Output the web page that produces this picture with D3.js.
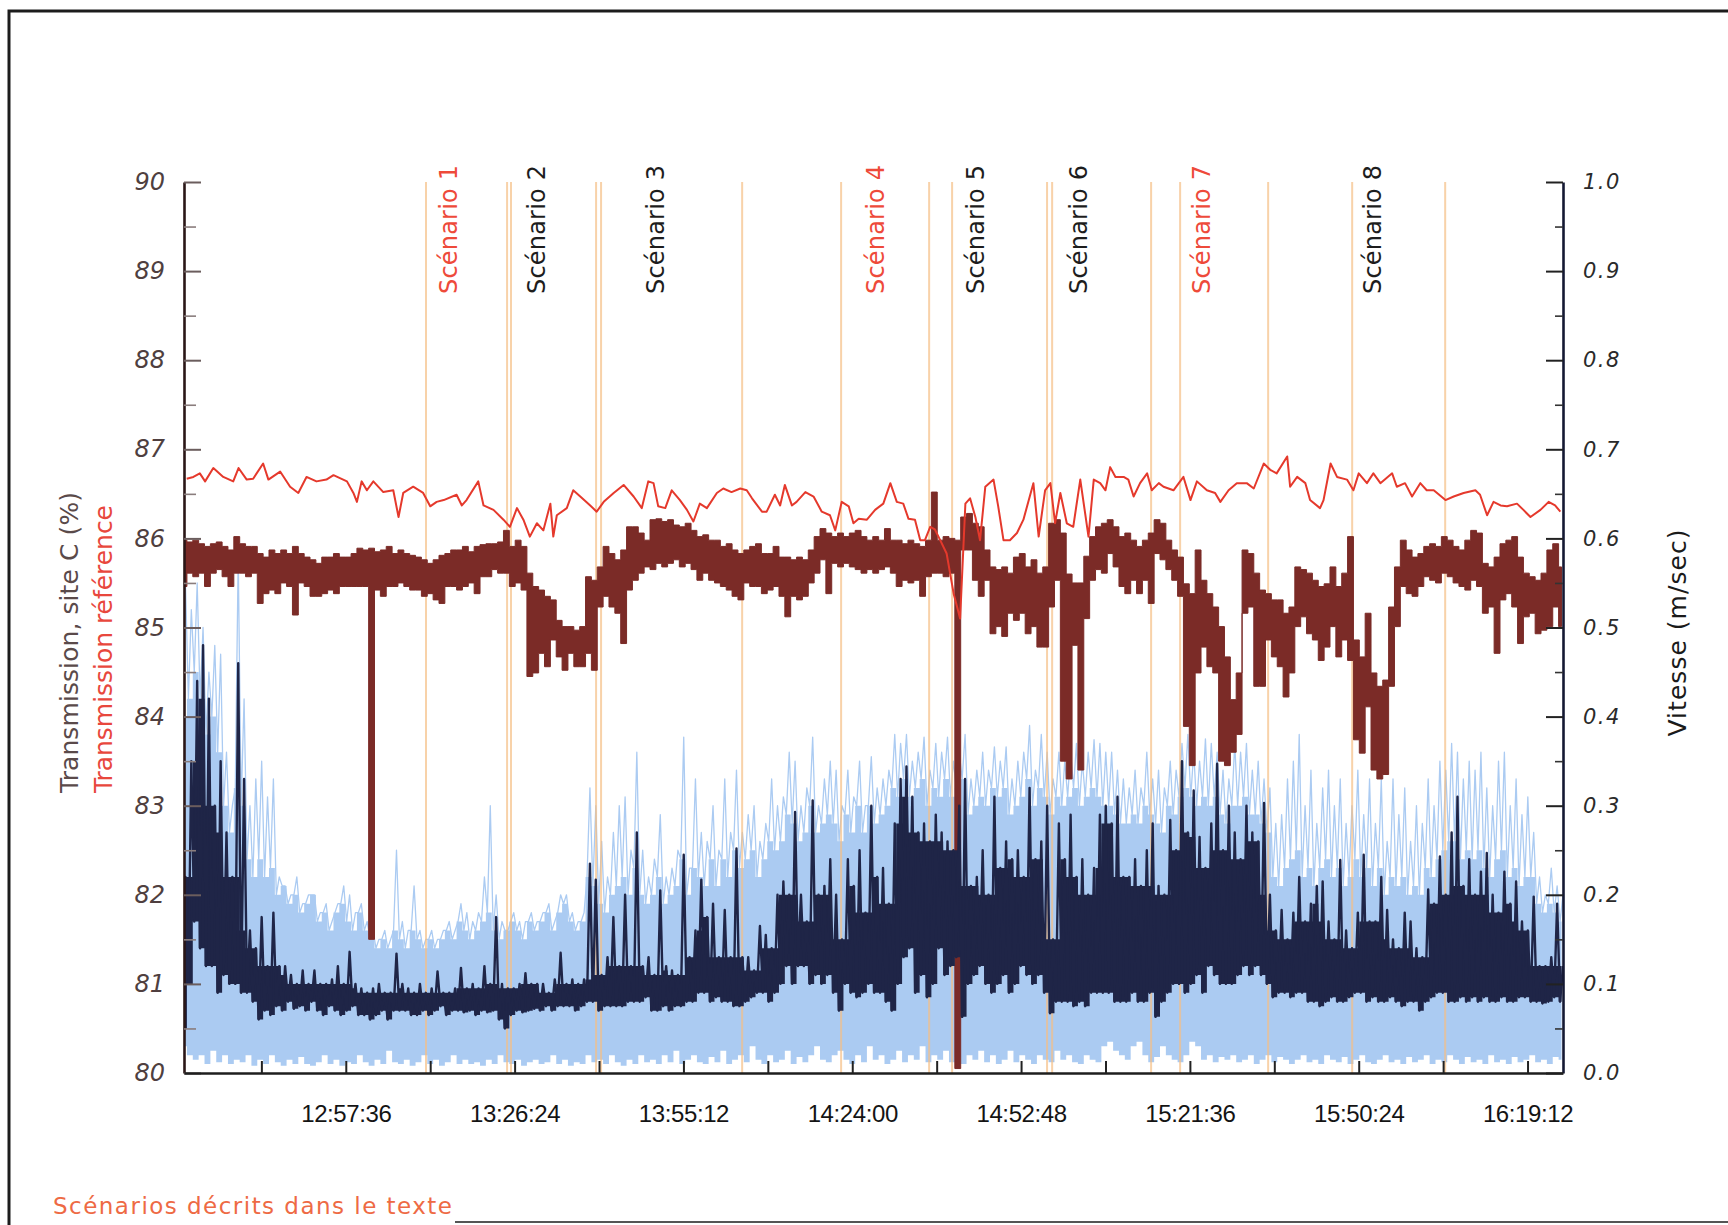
<!DOCTYPE html>
<html>
<head>
<meta charset="utf-8">
<script src="https://cdn.jsdelivr.net/npm/d3@7"></script>
<style>
  html, body { margin: 0; padding: 0; background: #fff; }
  svg { display: block; }
</style>
</head>
<body>
<svg id="chart" width="1728" height="1225"></svg>
<script>
// ---------------------------------------------------------------
// Time frame
// ---------------------------------------------------------------
const axisStart = "12:30:00";
const axisEnd = "16:25:15";
const seriesStart = "12:30:00";   // gridded series: one value per minute
const stepMinutes = 1;

const majorTimeTicks = ["12:57:36", "13:26:24", "13:55:12", "14:24:00", "14:52:48", "15:21:36", "15:50:24", "16:19:12"];
const minorTimeTicks = ["12:43:12", "13:12:00", "13:40:48", "14:09:36", "14:38:24", "15:07:12", "15:36:00", "16:04:48"];

const transmissionTicks = [80, 81, 82, 83, 84, 85, 86, 87, 88, 89, 90];
const transmissionMinor = [80.5, 81.5, 82.5, 83.5, 84.5, 85.5, 86.5, 87.5, 88.5, 89.5];
const speedTicks = [0, 0.1, 0.2, 0.3, 0.4, 0.5, 0.6, 0.7, 0.8, 0.9, 1.0];
const speedMinor = [0.05, 0.15, 0.25, 0.35, 0.45, 0.55, 0.65, 0.75, 0.85, 0.95];

// Scenario boundaries and labels
const scenarioBoundaries = ["13:11:17", "13:25:07", "13:25:47", "13:40:18", "13:41:09", "14:05:13", "14:22:06",
  "14:37:07", "14:41:02", "14:57:14", "14:58:06", "15:14:59", "15:19:56", "15:34:57", "15:49:17", "16:05:09"];
const scenarioNames = ["Scénario 1", "Scénario 2", "Scénario 3", "Scénario 4", "Scénario 5", "Scénario 6", "Scénario 7", "Scénario 8"];
const scenarioTimes = ["13:15:13", "13:30:14", "13:50:22", "14:28:04", "14:44:58", "15:02:32", "15:23:31", "15:52:42"];

// ---------------------------------------------------------------
// Reference transmission (%) : [minutes after 12:30, value]
// ---------------------------------------------------------------
const referenceSeries = [
  [0.46,86.67],[1.6,86.69],[2.7,86.73],[3.6,86.64],[5.0,86.79],[6.7,86.69],[8.4,86.64],[9.3,86.79],[10.7,86.66],[11.8,86.67],
  [13.5,86.84],[14.4,86.66],[16.4,86.75],[18.1,86.58],[19.5,86.51],[20.9,86.69],[22.6,86.64],[24.3,86.66],[25.5,86.71],[27.8,86.64],
  [28.9,86.51],[29.5,86.41],[30.3,86.64],[31.2,86.54],[32.3,86.64],[34.0,86.52],[35.7,86.54],[36.6,86.24],[37.4,86.51],[39.1,86.58],
  [40.8,86.51],[42.0,86.36],[43.1,86.41],[44.3,86.43],[46.5,86.49],[47.4,86.37],[48.2,86.43],[50.2,86.64],[51.1,86.37],[52.8,86.32],
  [54.5,86.21],[55.6,86.13],[56.8,86.34],[57.9,86.21],[59.0,86.02],[60.2,86.17],[61.3,86.09],[62.5,86.39],[63.0,86.02],[63.6,86.26],
  [65.3,86.34],[66.4,86.54],[67.6,86.47],[69.3,86.37],[70.4,86.30],[71.6,86.41],[73.3,86.51],[75.0,86.60],[76.7,86.47],[78.1,86.34],
  [79.2,86.64],[80.1,86.62],[80.9,86.36],[82.1,86.34],[83.2,86.54],[84.6,86.43],[85.8,86.32],[86.9,86.19],[88.0,86.39],[89.2,86.34],
  [90.9,86.51],[92.0,86.56],[93.4,86.52],[94.9,86.56],[96.0,86.54],[96.9,86.45],[98.6,86.30],[99.4,86.30],[100.8,86.49],[101.7,86.37],
  [102.5,86.60],[103.7,86.37],[104.5,86.41],[106.0,86.52],[107.4,86.47],[108.8,86.30],[110.2,86.26],[111.1,86.09],[112.2,86.41],[113.4,86.36],
  [114.2,86.17],[115.1,86.22],[116.5,86.21],[117.9,86.32],[119.3,86.39],[120.5,86.62],[121.6,86.41],[122.7,86.39],[123.6,86.22],[124.7,86.21],
  [125.6,85.98],[126.4,85.98],[127.3,86.13],[128.1,86.10],[129.0,85.98],[130.1,85.83],[131.3,85.38],[132.4,85.10],[133.3,86.39],[134.1,86.45],
  [135.0,86.24],[135.8,85.98],[136.7,86.58],[138.1,86.66],[138.9,86.36],[139.8,85.98],[140.9,85.98],[142.1,86.06],[143.2,86.21],[144.9,86.62],
  [145.8,86.02],[146.9,86.54],[147.8,86.62],[148.6,86.17],[149.5,86.51],[150.6,86.17],[151.7,86.13],[152.9,86.66],[154.3,86.02],[155.2,86.66],
  [156.3,86.62],[157.2,86.54],[158.0,86.80],[158.9,86.69],[160.3,86.69],[161.1,86.66],[162.0,86.47],[163.1,86.62],[164.3,86.73],[165.1,86.54],
  [166.3,86.62],[167.1,86.58],[168.8,86.54],[170.5,86.69],[171.7,86.43],[172.8,86.64],[174.5,86.54],[175.9,86.51],[176.8,86.41],[178.2,86.54],
  [179.6,86.62],[181.3,86.62],[182.5,86.56],[184.2,86.84],[185.3,86.77],[186.4,86.73],[188.2,86.92],[188.7,86.58],[189.9,86.69],[191.3,86.62],
  [192.1,86.43],[193.8,86.34],[194.4,86.43],[195.6,86.84],[196.7,86.69],[198.4,86.66],[199.5,86.54],[200.4,86.73],[201.8,86.62],[202.9,86.73],
  [204.1,86.62],[206.1,86.73],[206.9,86.58],[208.3,86.62],[209.5,86.47],[210.9,86.62],[212.0,86.54],[213.2,86.54],[215.2,86.43],[216.6,86.47],
  [218.3,86.51],[220.3,86.54],[221.1,86.49],[222.3,86.26],[223.4,86.41],[224.6,86.37],[225.7,86.36],[227.4,86.39],[228.5,86.32],[229.7,86.24],
  [231.4,86.32],[232.8,86.41],[233.9,86.37],[234.8,86.30]
];

// ---------------------------------------------------------------
// Site C transmission (%) : per-minute high / low envelope
// ---------------------------------------------------------------
const siteCHigh = [
  85.98,85.96,85.98,85.94,85.91,85.94,85.96,85.91,85.87,86.02, // 12:30
  85.94,85.91,85.91,85.83,85.79,85.87,85.83,85.87,85.83,85.91, // 12:40
  85.83,85.79,85.76,85.72,85.79,85.79,85.83,85.79,85.79,85.83, // 12:50
  85.89,85.87,85.89,85.85,85.87,85.91,85.83,85.87,85.83,85.81, // 13:00
  85.79,85.76,85.72,85.76,85.81,85.83,85.87,85.87,85.91,85.85, // 13:10
  85.91,85.93,85.94,85.94,85.96,86.09,85.91,85.98,85.91,85.61, // 13:20
  85.46,85.42,85.35,85.31,85.08,85.01,85.01,84.97,85.01,85.57, // 13:30
  85.53,85.68,85.91,85.83,85.76,85.87,86.13,86.13,86.06,85.98, // 13:40
  86.21,86.22,86.19,86.21,86.15,86.13,86.17,86.09,86.02,86.04, // 13:50
  85.98,85.98,85.91,85.94,85.87,85.83,85.87,85.91,85.94,85.83, // 14:00
  85.83,85.91,85.79,85.79,85.76,85.79,85.76,85.87,86.02,86.11, // 14:10
  86.06,86.02,86.06,86.02,86.06,86.09,86.02,85.98,86.02,85.98, // 14:20
  86.11,85.98,85.98,85.94,85.98,85.94,85.91,85.98,86.52,85.98, // 14:30
  86.02,86.00,85.98,86.24,86.28,86.17,86.13,85.87,85.68,85.65, // 14:40
  85.68,85.61,85.79,85.83,85.68,85.76,85.61,85.68,86.17,86.21, // 14:50
  86.06,85.60,85.50,85.50,85.80,86.02,86.13,86.17,86.21,86.13, // 15:00
  86.02,86.06,85.98,85.91,85.98,86.06,86.21,86.17,85.98,85.87, // 15:10
  85.79,85.49,85.38,85.87,85.53,85.38,85.23,85.01,84.67,84.19, // 15:20
  84.49,85.87,85.83,85.61,85.42,85.38,85.31,85.31,85.16,85.23, // 15:30
  85.68,85.65,85.61,85.53,85.46,85.49,85.68,85.46,85.61,86.02, // 15:40
  84.86,84.67,85.16,84.49,84.34,84.41,85.23,85.68,85.98,85.87, // 15:50
  85.79,85.83,85.91,85.94,85.91,86.02,85.98,85.91,85.87,85.98, // 16:00
  86.09,86.06,85.72,85.68,85.79,85.94,85.98,86.02,85.79,85.61, // 16:10
  85.57,85.53,85.61,85.87,85.94,85.68                          // 16:20
];
const siteCLow = [
  85.46,85.61,85.57,85.61,85.46,85.61,85.65,85.57,85.46,85.61,
  85.61,85.57,85.61,85.27,85.38,85.42,85.38,85.50,85.46,85.14,
  85.50,85.46,85.35,85.35,85.38,85.42,85.38,85.46,85.46,85.46,
  85.46,85.46,81.50,85.42,85.35,85.46,85.46,85.50,85.46,85.42,
  85.42,85.35,85.38,85.31,85.27,85.46,85.46,85.42,85.46,85.50,
  85.38,85.57,85.57,85.65,85.61,85.61,85.46,85.50,85.42,84.45,
  84.49,84.71,84.56,84.86,84.67,84.52,84.71,84.56,84.56,84.71,
  84.52,85.23,85.35,85.23,85.16,84.82,85.42,85.53,85.61,85.68,
  85.65,85.72,85.68,85.72,85.76,85.68,85.72,85.65,85.53,85.61,
  85.53,85.50,85.46,85.42,85.35,85.31,85.50,85.46,85.46,85.38,
  85.42,85.46,85.35,85.12,85.35,85.31,85.35,85.50,85.61,85.76,
  85.38,85.72,85.68,85.72,85.68,85.65,85.61,85.65,85.61,85.65,
  85.68,85.61,85.46,85.53,85.50,85.53,85.35,85.57,85.61,85.61,
  85.57,85.61,80.05,85.87,85.87,85.53,85.35,85.53,84.93,85.01,
  84.90,85.16,85.08,85.16,84.93,85.01,84.78,84.78,85.23,85.53,
  83.50,83.30,84.80,83.40,85.10,85.53,85.65,85.61,85.83,85.68,
  85.46,85.38,85.53,85.38,85.53,85.27,85.83,85.76,85.65,85.53,
  85.35,83.89,83.45,84.49,84.78,84.56,84.49,83.50,83.45,83.60,
  83.80,85.16,85.23,84.34,84.34,84.86,84.67,84.56,84.22,84.49,
  85.01,85.12,84.93,84.86,84.63,84.78,85.01,84.67,84.86,84.63,
  83.74,83.59,84.11,83.40,83.30,83.35,84.34,85.01,85.46,85.38,
  85.35,85.46,85.57,85.53,85.50,85.61,85.57,85.50,85.46,85.42,
  85.53,85.46,85.16,85.23,84.71,85.31,85.38,85.23,84.82,85.12,
  85.16,84.93,84.97,85.01,85.23,85.01
];

// ---------------------------------------------------------------
// Current speed (m/s), filtered : per-minute high / low envelope
// ---------------------------------------------------------------
const speedHigh = [
  0.22,0.35,0.44,0.48,0.42,0.30,0.35,0.27,0.22,0.46,
  0.33,0.16,0.14,0.175,0.12,0.18,0.12,0.12,0.11,0.10,
  0.115,0.10,0.115,0.10,0.10,0.105,0.12,0.10,0.136,0.10,
  0.095,0.09,0.095,0.10,0.09,0.09,0.134,0.10,0.095,0.09,
  0.10,0.09,0.095,0.114,0.09,0.09,0.095,0.118,0.095,0.10,
  0.095,0.12,0.10,0.175,0.10,0.095,0.095,0.10,0.112,0.10,
  0.10,0.10,0.09,0.105,0.135,0.10,0.105,0.10,0.105,0.235,
  0.217,0.11,0.13,0.175,0.12,0.20,0.12,0.27,0.12,0.13,
  0.11,0.205,0.12,0.115,0.11,0.245,0.13,0.16,0.217,0.175,
  0.19,0.13,0.183,0.13,0.252,0.13,0.13,0.115,0.165,0.155,
  0.14,0.20,0.215,0.20,0.293,0.20,0.17,0.306,0.20,0.21,
  0.24,0.20,0.15,0.24,0.21,0.25,0.18,0.30,0.22,0.23,
  0.19,0.28,0.33,0.344,0.31,0.27,0.28,0.26,0.29,0.27,
  0.26,0.25,0.30,0.33,0.21,0.22,0.25,0.20,0.31,0.23,
  0.26,0.24,0.25,0.22,0.32,0.24,0.26,0.30,0.15,0.28,
  0.24,0.29,0.22,0.24,0.20,0.23,0.29,0.30,0.28,0.31,
  0.22,0.22,0.24,0.21,0.25,0.28,0.21,0.20,0.284,0.25,
  0.35,0.27,0.317,0.265,0.23,0.28,0.347,0.25,0.30,0.27,
  0.24,0.30,0.27,0.26,0.303,0.20,0.16,0.183,0.15,0.18,
  0.22,0.17,0.19,0.21,0.215,0.17,0.15,0.239,0.16,0.14,
  0.18,0.245,0.17,0.17,0.22,0.183,0.15,0.14,0.18,0.17,
  0.14,0.13,0.206,0.19,0.243,0.20,0.27,0.31,0.21,0.24,
  0.20,0.226,0.247,0.20,0.18,0.226,0.19,0.215,0.17,0.16,
  0.198,0.12,0.12,0.13,0.19,0.12
];
const speedLow = [
  0.05,0.10,0.17,0.14,0.12,0.12,0.09,0.11,0.10,0.10,
  0.09,0.09,0.08,0.06,0.07,0.065,0.075,0.07,0.08,0.072,
  0.075,0.07,0.08,0.07,0.065,0.075,0.07,0.065,0.07,0.075,
  0.065,0.065,0.06,0.065,0.07,0.06,0.07,0.07,0.07,0.065,
  0.065,0.07,0.065,0.07,0.075,0.065,0.07,0.07,0.068,0.07,
  0.065,0.07,0.068,0.07,0.06,0.05,0.065,0.07,0.068,0.07,
  0.072,0.07,0.075,0.07,0.075,0.075,0.075,0.07,0.075,0.08,
  0.08,0.07,0.075,0.075,0.075,0.075,0.08,0.08,0.08,0.085,
  0.07,0.07,0.075,0.07,0.075,0.075,0.08,0.08,0.09,0.09,
  0.08,0.085,0.08,0.08,0.075,0.075,0.08,0.085,0.09,0.09,
  0.08,0.09,0.10,0.12,0.10,0.12,0.12,0.10,0.11,0.10,
  0.11,0.09,0.07,0.10,0.09,0.085,0.09,0.10,0.09,0.09,
  0.08,0.07,0.10,0.13,0.14,0.09,0.11,0.085,0.10,0.14,
  0.11,0.12,0.13,0.063,0.10,0.11,0.12,0.10,0.09,0.10,
  0.11,0.09,0.10,0.12,0.11,0.10,0.11,0.09,0.067,0.08,
  0.08,0.08,0.075,0.08,0.075,0.09,0.09,0.09,0.09,0.08,
  0.08,0.08,0.09,0.08,0.08,0.09,0.063,0.08,0.09,0.10,
  0.10,0.09,0.10,0.11,0.09,0.12,0.11,0.10,0.10,0.10,
  0.11,0.12,0.11,0.12,0.11,0.10,0.085,0.09,0.09,0.085,
  0.09,0.09,0.08,0.08,0.075,0.08,0.085,0.08,0.08,0.085,
  0.09,0.09,0.08,0.085,0.08,0.08,0.085,0.08,0.075,0.08,
  0.08,0.07,0.08,0.085,0.09,0.09,0.08,0.08,0.085,0.08,
  0.085,0.08,0.085,0.08,0.08,0.085,0.08,0.08,0.085,0.085,
  0.08,0.08,0.078,0.08,0.085,0.08
];

// ---------------------------------------------------------------
// Current speed (m/s), raw : per-minute low, dense upper edge, peak
// ---------------------------------------------------------------
const rawSpeedLow = [
  0.03,0.02,0.015,0.02,0.01,0.025,0.012,0.02,0.01,0.015,
  0.012,0.02,0.008,0.015,0.01,0.02,0.012,0.008,0.015,0.01,
  0.018,0.01,0.008,0.012,0.02,0.01,0.015,0.008,0.012,0.01,
  0.02,0.012,0.008,0.015,0.01,0.025,0.012,0.01,0.015,0.008,
  0.012,0.02,0.01,0.015,0.008,0.012,0.02,0.01,0.015,0.01,
  0.012,0.008,0.015,0.01,0.02,0.012,0.01,0.015,0.008,0.012,
  0.015,0.01,0.012,0.02,0.01,0.015,0.008,0.012,0.01,0.02,
  0.012,0.015,0.01,0.02,0.012,0.008,0.015,0.01,0.02,0.012,
  0.015,0.01,0.02,0.012,0.025,0.01,0.015,0.02,0.012,0.01,
  0.018,0.012,0.025,0.01,0.015,0.02,0.012,0.03,0.015,0.01,
  0.02,0.012,0.015,0.025,0.01,0.018,0.012,0.02,0.03,0.015,
  0.012,0.02,0.025,0.015,0.01,0.02,0.012,0.03,0.015,0.02,
  0.01,0.015,0.025,0.012,0.02,0.015,0.03,0.012,0.02,0.015,
  0.025,0.012,0.018,0.01,0.02,0.015,0.025,0.012,0.02,0.01,
  0.015,0.025,0.012,0.02,0.015,0.01,0.02,0.015,0.012,0.025,
  0.015,0.02,0.012,0.01,0.02,0.015,0.012,0.03,0.035,0.025,
  0.02,0.015,0.03,0.035,0.02,0.012,0.018,0.03,0.02,0.015,
  0.012,0.02,0.035,0.03,0.015,0.02,0.012,0.018,0.015,0.02,
  0.012,0.015,0.02,0.01,0.015,0.02,0.012,0.018,0.015,0.01,
  0.015,0.02,0.012,0.015,0.01,0.02,0.015,0.012,0.018,0.01,
  0.015,0.02,0.012,0.01,0.015,0.02,0.012,0.015,0.01,0.018,
  0.012,0.015,0.02,0.01,0.015,0.012,0.02,0.015,0.01,0.018,
  0.012,0.015,0.01,0.02,0.012,0.015,0.01,0.018,0.012,0.015,
  0.02,0.012,0.015,0.01,0.018,0.015
];
const rawSpeedBand = [
  0.40,0.42,0.45,0.42,0.38,0.40,0.36,0.30,0.27,0.32,
  0.30,0.24,0.22,0.24,0.22,0.23,0.20,0.21,0.19,0.20,
  0.18,0.19,0.20,0.17,0.18,0.16,0.18,0.19,0.17,0.16,
  0.18,0.16,0.15,0.14,0.15,0.14,0.16,0.15,0.14,0.16,
  0.15,0.14,0.15,0.14,0.15,0.16,0.15,0.17,0.16,0.15,
  0.16,0.17,0.18,0.16,0.15,0.16,0.17,0.16,0.15,0.17,
  0.16,0.17,0.18,0.16,0.18,0.19,0.17,0.16,0.17,0.22,
  0.21,0.19,0.18,0.20,0.21,0.22,0.20,0.23,0.20,0.19,
  0.20,0.22,0.19,0.20,0.21,0.24,0.20,0.23,0.22,0.21,
  0.24,0.21,0.24,0.22,0.25,0.23,0.24,0.25,0.22,0.24,
  0.26,0.25,0.26,0.29,0.28,0.26,0.27,0.30,0.27,0.28,
  0.29,0.28,0.26,0.29,0.27,0.30,0.27,0.30,0.28,0.29,
  0.30,0.32,0.31,0.33,0.31,0.32,0.33,0.30,0.32,0.31,
  0.33,0.31,0.32,0.33,0.29,0.30,0.31,0.30,0.32,0.31,
  0.32,0.29,0.30,0.31,0.33,0.30,0.32,0.31,0.29,0.31,
  0.30,0.31,0.32,0.30,0.31,0.32,0.31,0.30,0.30,0.29,
  0.28,0.28,0.29,0.28,0.30,0.29,0.28,0.27,0.30,0.29,
  0.31,0.32,0.31,0.30,0.31,0.30,0.31,0.29,0.28,0.30,
  0.30,0.31,0.29,0.29,0.28,0.27,0.22,0.21,0.23,0.24,
  0.25,0.22,0.23,0.21,0.23,0.24,0.22,0.23,0.21,0.22,
  0.24,0.22,0.23,0.21,0.23,0.20,0.22,0.21,0.22,0.20,
  0.21,0.20,0.23,0.22,0.24,0.25,0.26,0.26,0.24,0.25,
  0.24,0.25,0.23,0.22,0.24,0.25,0.22,0.23,0.21,0.22,
  0.22,0.19,0.18,0.19,0.18,0.17
];
const rawSpeedPeak = [
  0.55,0.52,0.55,0.50,0.45,0.48,0.47,0.36,0.30,0.58,
  0.42,0.30,0.33,0.35,0.31,0.33,0.22,0.21,0.20,0.22,
  0.19,0.20,0.20,0.18,0.19,0.17,0.19,0.21,0.20,0.18,
  0.19,0.17,0.16,0.15,0.16,0.15,0.25,0.17,0.16,0.21,
  0.16,0.15,0.16,0.15,0.16,0.17,0.16,0.19,0.18,0.17,
  0.18,0.22,0.30,0.20,0.17,0.16,0.18,0.17,0.17,0.18,
  0.17,0.18,0.19,0.17,0.20,0.20,0.18,0.17,0.18,0.32,
  0.30,0.26,0.22,0.27,0.30,0.31,0.25,0.36,0.25,0.22,
  0.24,0.29,0.22,0.23,0.25,0.377,0.23,0.33,0.27,0.26,
  0.30,0.25,0.33,0.27,0.34,0.27,0.29,0.30,0.26,0.28,
  0.33,0.30,0.31,0.36,0.35,0.30,0.32,0.377,0.30,0.33,
  0.35,0.34,0.30,0.34,0.31,0.35,0.30,0.355,0.32,0.33,
  0.34,0.38,0.37,0.38,0.35,0.36,0.377,0.34,0.37,0.36,
  0.377,0.35,0.36,0.38,0.33,0.34,0.36,0.34,0.366,0.35,
  0.366,0.33,0.35,0.36,0.39,0.34,0.38,0.36,0.33,0.36,
  0.35,0.36,0.37,0.35,0.36,0.374,0.37,0.36,0.36,0.34,
  0.33,0.32,0.34,0.32,0.36,0.33,0.34,0.32,0.35,0.34,
  0.37,0.38,0.36,0.35,0.375,0.37,0.36,0.34,0.33,0.37,
  0.36,0.37,0.34,0.35,0.33,0.32,0.28,0.29,0.33,0.35,
  0.38,0.30,0.34,0.28,0.32,0.34,0.30,0.33,0.28,0.30,
  0.34,0.29,0.33,0.28,0.33,0.26,0.33,0.29,0.32,0.26,
  0.30,0.28,0.33,0.30,0.35,0.34,0.37,0.36,0.33,0.35,
  0.34,0.36,0.32,0.30,0.35,0.36,0.30,0.33,0.29,0.31,
  0.27,0.22,0.20,0.23,0.21,0.20
];

// ---------------------------------------------------------------
// Layout and styles
// ---------------------------------------------------------------
const plot = { left: 184, right: 1563, top: 182, bottom: 1073 };
const colors = {
  reference: "#e5392c",
  siteC: "#7b2b27",
  speed: "#1f2547",
  rawSpeed: "#abcbf2",
  scenarioLine: "#f6bf85",
  scenarioRed: "#ee4a3a",
  scenarioBlack: "#1d1d1d",
  leftText: "#4f3f3f"
};
const redScenarios = new Set(["Scénario 1", "Scénario 4", "Scénario 7"]);

const svg = d3.select("#chart");
const parseTime = d3.timeParse("%H:%M:%S");
const t0 = parseTime(seriesStart);
const atMinute = m => new Date(t0.getTime() + m * 60000);

const x = d3.scaleTime()
  .domain([parseTime(axisStart), parseTime(axisEnd)])
  .range([plot.left, plot.right]);
const yT = d3.scaleLinear().domain([80, 90]).range([plot.bottom, plot.top]);
const yV = d3.scaleLinear().domain([0, 1]).range([plot.bottom, plot.top]);

// page frame
svg.append("path")
  .attr("d", "M9,1225V11H1728")
  .attr("fill", "none").attr("stroke", "#1c1c1c").attr("stroke-width", 3);
svg.append("line")
  .attr("x1", 455).attr("x2", 1728).attr("y1", 1222).attr("y2", 1222)
  .attr("stroke", "#555").attr("stroke-width", 2);

svg.append("defs").append("clipPath").attr("id", "plot-clip")
  .append("rect")
  .attr("x", plot.left).attr("y", plot.top)
  .attr("width", plot.right - plot.left).attr("height", plot.bottom - plot.top);

const data = svg.append("g").attr("clip-path", "url(#plot-clip)");
const xi = i => x(atMinute(i * stepMinutes));
const xm = m => x(atMinute(m * stepMinutes));

// Alternating low/high samples: the envelope traced as a noisy signal
const zigzag = (lo, hi) => {
  const pts = [];
  for (let i = 0; i < Math.min(lo.length, hi.length); i++) {
    pts.push([i - 0.25, lo[i]]);
    pts.push([i + 0.25, hi[i]]);
  }
  return pts;
};

// raw speed: dense band + peaks
const rawIdx = d3.range(Math.min(rawSpeedLow.length, rawSpeedBand.length));
data.append("path")
  .datum(rawIdx)
  .attr("fill", colors.rawSpeed)
  .attr("d", d3.area().curve(d3.curveStep)
    .x(xi).y0(i => yV(rawSpeedLow[i])).y1(i => yV(rawSpeedBand[i])));
data.append("path")
  .datum(zigzag(rawSpeedBand, rawSpeedPeak))
  .attr("fill", "none")
  .attr("stroke", colors.rawSpeed).attr("stroke-width", 1.3)
  .attr("stroke-linejoin", "round")
  .attr("d", d3.line().x(d => xm(d[0])).y(d => yV(d[1])));

// scenario boundaries
data.append("g")
  .selectAll("line")
  .data(scenarioBoundaries)
  .join("line")
  .attr("x1", d => x(parseTime(d))).attr("x2", d => x(parseTime(d)))
  .attr("y1", plot.top).attr("y2", plot.bottom)
  .attr("stroke", colors.scenarioLine).attr("stroke-width", 2).attr("opacity", 0.7);

// site C transmission envelope
const cIdx = d3.range(Math.min(siteCHigh.length, siteCLow.length));
data.append("path")
  .datum(cIdx)
  .attr("fill", colors.siteC)
  .attr("stroke", colors.siteC).attr("stroke-width", 1)
  .attr("d", d3.area().curve(d3.curveStep)
    .x(xi).y0(i => yT(siteCLow[i])).y1(i => yT(siteCHigh[i])));

// filtered speed: solid core (local minimum of the highs) + traced spikes
const sIdx = d3.range(Math.min(speedHigh.length, speedLow.length));
const speedCore = sIdx.map(i => Math.max(speedLow[i],
  d3.min([speedHigh[Math.max(0, i - 1)], speedHigh[i], speedHigh[Math.min(sIdx.length - 1, i + 1)]])));
data.append("path")
  .datum(sIdx)
  .attr("fill", colors.speed)
  .attr("d", d3.area().curve(d3.curveStep)
    .x(xi).y0(i => yV(speedLow[i])).y1(i => yV(speedCore[i])));
data.append("path")
  .datum(zigzag(speedLow, speedHigh))
  .attr("fill", "none")
  .attr("stroke", colors.speed).attr("stroke-width", 2.4)
  .attr("stroke-linejoin", "round")
  .attr("d", d3.line().x(d => xm(d[0])).y(d => yV(d[1])));

// reference transmission
data.append("path")
  .datum(referenceSeries)
  .attr("fill", "none")
  .attr("stroke", colors.reference).attr("stroke-width", 2)
  .attr("stroke-linejoin", "round")
  .attr("d", d3.line().x(d => xm(d[0])).y(d => yT(d[1])));

// ---------------------------------------------------------------
// Axes
// ---------------------------------------------------------------
const leftAxis = svg.append("g")
  .attr("transform", `translate(${plot.left},0)`)
  .call(d3.axisLeft(yT).tickValues(transmissionTicks).tickSize(-17).tickSizeOuter(0)
    .tickPadding(19).tickFormat(d3.format("d")));
leftAxis.select(".domain").attr("stroke", "#2a1616").attr("stroke-width", 2.6);
leftAxis.selectAll(".tick line").attr("stroke", "#6b5d5d").attr("stroke-width", 2);
leftAxis.selectAll(".tick text")
  .attr("font-family", "DejaVu Sans").attr("font-style", "italic")
  .attr("font-size", 24).attr("fill", colors.leftText);

const leftMinor = svg.append("g")
  .attr("transform", `translate(${plot.left},0)`)
  .call(d3.axisLeft(yT).tickValues(transmissionMinor).tickSize(-12).tickFormat(""));
leftMinor.select(".domain").remove();
leftMinor.selectAll(".tick line").attr("stroke", "#8a7d7d").attr("stroke-width", 1.6);

const rightAxis = svg.append("g")
  .attr("transform", `translate(${plot.right},0)`)
  .call(d3.axisRight(yV).tickValues(speedTicks).tickSize(-17).tickSizeOuter(0)
    .tickPadding(20).tickFormat(d3.format(".1f")));
rightAxis.select(".domain").attr("stroke", "#141833").attr("stroke-width", 2.6);
rightAxis.selectAll(".tick line").attr("stroke", "#222").attr("stroke-width", 2);
rightAxis.selectAll(".tick text")
  .attr("font-family", "DejaVu Sans").attr("font-style", "italic")
  .attr("font-size", 21).attr("letter-spacing", 1.5).attr("fill", "#2a2a2a");

const rightMinor = svg.append("g")
  .attr("transform", `translate(${plot.right},0)`)
  .call(d3.axisRight(yV).tickValues(speedMinor).tickSize(-8).tickFormat(""));
rightMinor.select(".domain").remove();
rightMinor.selectAll(".tick line").attr("stroke", "#333").attr("stroke-width", 1.6);

const bottomAxis = svg.append("g")
  .attr("transform", `translate(0,${plot.bottom})`)
  .call(d3.axisBottom(x).tickValues(majorTimeTicks.map(parseTime)).tickSize(-12).tickSizeOuter(0)
    .tickPadding(32).tickFormat(d3.timeFormat("%H:%M:%S")));
bottomAxis.select(".domain").attr("stroke", "#1e1e1e").attr("stroke-width", 2.6);
bottomAxis.selectAll(".tick line").attr("stroke", "#222").attr("stroke-width", 2);
bottomAxis.selectAll(".tick text")
  .attr("font-family", "Liberation Sans").attr("font-size", 24)
  .attr("letter-spacing", -0.4).attr("fill", "#141414");

const bottomMinor = svg.append("g")
  .attr("transform", `translate(0,${plot.bottom})`)
  .call(d3.axisBottom(x).tickValues(minorTimeTicks.map(parseTime)).tickSize(-12).tickFormat(""));
bottomMinor.select(".domain").remove();
bottomMinor.selectAll(".tick line").attr("stroke", "#222").attr("stroke-width", 2);

// ---------------------------------------------------------------
// Titles and labels
// ---------------------------------------------------------------
const vText = (px, py, text, fill, len, anchor) =>
  svg.append("text")
    .attr("transform", `translate(${px},${py}) rotate(-90)`)
    .attr("text-anchor", anchor).attr("dy", "0.35em")
    .attr("font-family", "DejaVu Sans").attr("font-size", 25)
    .attr("fill", fill)
    .attr("textLength", len).attr("lengthAdjust", "spacing")
    .text(text);

vText(69, 793, "Transmission, site C (%)", "#5a4a4a", 301, "start");
vText(103, 793, "Transmission référence", "#e8473d", 288, "start");
vText(1677, 633, "Vitesse (m/sec)", "#1a1a1a", 207, "middle");

svg.append("g")
  .selectAll("text")
  .data(scenarioNames)
  .join("text")
  .attr("transform", (d, i) => `translate(${x(parseTime(scenarioTimes[i]))},294) rotate(-90)`)
  .attr("text-anchor", "start").attr("dy", "0.35em")
  .attr("font-family", "DejaVu Sans").attr("font-size", 24)
  .attr("fill", d => redScenarios.has(d) ? colors.scenarioRed : colors.scenarioBlack)
  .attr("textLength", 129).attr("lengthAdjust", "spacing")
  .text(d => d);

svg.append("text")
  .attr("x", 53).attr("y", 1214)
  .attr("font-family", "DejaVu Sans").attr("font-size", 23)
  .attr("fill", "#ee6a44")
  .attr("textLength", 399).attr("lengthAdjust", "spacing")
  .text("Scénarios décrits dans le texte");
</script>
</body>
</html>
